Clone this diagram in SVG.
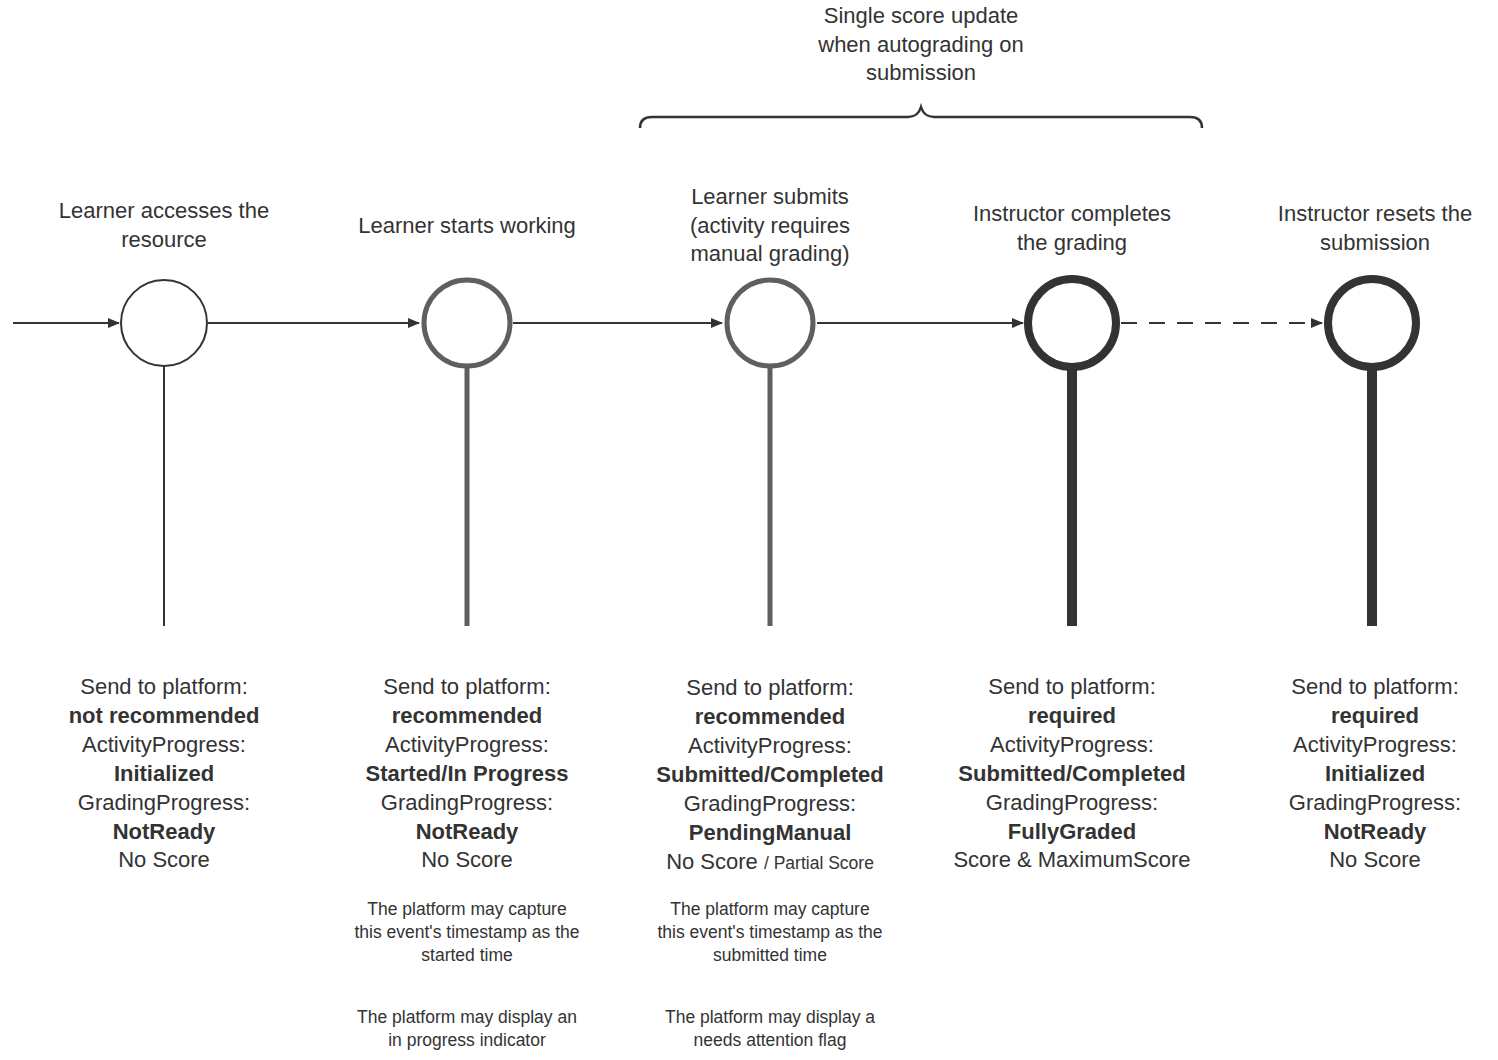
<svg xmlns="http://www.w3.org/2000/svg" width="1498" height="1060" viewBox="0 0 1498 1060">
<defs>
<marker id="ah" markerWidth="12" markerHeight="10" refX="11" refY="5" orient="auto" markerUnits="userSpaceOnUse"><path d="M0,0 L12,5 L0,10 Z" fill="#333"/></marker>
<style>
text{font-family:"Liberation Sans",Arial,sans-serif;fill:#333;text-anchor:middle}
.t{font-size:22px}
.b{font-weight:bold}
.s{font-size:17.5px}
.c{fill:#fff}
.conn{stroke:#333;stroke-width:2;fill:none}
</style>
</defs>
<rect width="1498" height="1060" fill="#fff"/>
<g id="brace">
<path d="M640,128 Q640,117 652,117 L908,117 Q918,117 921,107 Q924,117 934,117 L1190,117 Q1202,117 1202,128" fill="none" stroke="#333" stroke-width="2.5"/>
<text class="t" x="921" y="23">Single score update</text>
<text class="t" x="921" y="52">when autograding on</text>
<text class="t" x="921" y="80">submission</text>
</g>
<g id="connectors">
<line class="conn" x1="13" y1="323" x2="119" y2="323" marker-end="url(#ah)"/>
<line class="conn" x1="208" y1="323" x2="419" y2="323" marker-end="url(#ah)"/>
<line class="conn" x1="513" y1="323" x2="722" y2="323" marker-end="url(#ah)"/>
<line class="conn" x1="817" y1="323" x2="1023" y2="323" marker-end="url(#ah)"/>
<line class="conn" x1="1121" y1="323" x2="1322" y2="323" stroke-dasharray="16,12" marker-end="url(#ah)"/>
</g>
<g id="n1">
<line x1="164" y1="366" x2="164" y2="626" stroke="#333" stroke-width="2"/>
<circle class="c" cx="164" cy="323" r="43" stroke="#333" stroke-width="2"/>
<text class="t" x="164" y="218">Learner accesses the</text>
<text class="t" x="164" y="247">resource</text>
<text class="t" x="164" y="694">Send to platform:</text>
<text class="t b" x="164" y="723">not recommended</text>
<text class="t" x="164" y="752">ActivityProgress:</text>
<text class="t b" x="164" y="781">Initialized</text>
<text class="t" x="164" y="810">GradingProgress:</text>
<text class="t b" x="164" y="839">NotReady</text>
<text class="t" x="164" y="867">No Score</text>
</g>
<g id="n2">
<line x1="467" y1="366" x2="467" y2="626" stroke="#5f5f5f" stroke-width="5"/>
<circle class="c" cx="467" cy="323" r="43" stroke="#5f5f5f" stroke-width="5"/>
<text class="t" x="467" y="233">Learner starts working</text>
<text class="t" x="467" y="694">Send to platform:</text>
<text class="t b" x="467" y="723">recommended</text>
<text class="t" x="467" y="752">ActivityProgress:</text>
<text class="t b" x="467" y="781">Started/In Progress</text>
<text class="t" x="467" y="810">GradingProgress:</text>
<text class="t b" x="467" y="839">NotReady</text>
<text class="t" x="467" y="867">No Score</text>
<text class="s" x="467" y="915">The platform may capture</text>
<text class="s" x="467" y="938">this event's timestamp as the</text>
<text class="s" x="467" y="961">started time</text>
<text class="s" x="467" y="1023">The platform may display an</text>
<text class="s" x="467" y="1046">in progress indicator</text>
</g>
<g id="n3">
<line x1="770" y1="366" x2="770" y2="626" stroke="#5f5f5f" stroke-width="5"/>
<circle class="c" cx="770" cy="323" r="43" stroke="#5f5f5f" stroke-width="5"/>
<text class="t" x="770" y="204">Learner submits</text>
<text class="t" x="770" y="233">(activity requires</text>
<text class="t" x="770" y="261">manual grading)</text>
<text class="t" x="770" y="695">Send to platform:</text>
<text class="t b" x="770" y="724">recommended</text>
<text class="t" x="770" y="753">ActivityProgress:</text>
<text class="t b" x="770" y="782">Submitted/Completed</text>
<text class="t" x="770" y="811">GradingProgress:</text>
<text class="t b" x="770" y="840">PendingManual</text>
<text class="t" x="770" y="869">No Score <tspan class="s" style="font-size:17.5px">/ Partial Score</tspan></text>
<text class="s" x="770" y="915">The platform may capture</text>
<text class="s" x="770" y="938">this event's timestamp as the</text>
<text class="s" x="770" y="961">submitted time</text>
<text class="s" x="770" y="1023">The platform may display a</text>
<text class="s" x="770" y="1046">needs attention flag</text>
</g>
<g id="n4">
<line x1="1072" y1="366" x2="1072" y2="626" stroke="#333" stroke-width="10"/>
<circle class="c" cx="1072" cy="323" r="44" stroke="#333" stroke-width="8"/>
<text class="t" x="1072" y="221">Instructor completes</text>
<text class="t" x="1072" y="250">the grading</text>
<text class="t" x="1072" y="694">Send to platform:</text>
<text class="t b" x="1072" y="723">required</text>
<text class="t" x="1072" y="752">ActivityProgress:</text>
<text class="t b" x="1072" y="781">Submitted/Completed</text>
<text class="t" x="1072" y="810">GradingProgress:</text>
<text class="t b" x="1072" y="839">FullyGraded</text>
<text class="t" x="1072" y="867">Score &amp; MaximumScore</text>
</g>
<g id="n5">
<line x1="1372" y1="366" x2="1372" y2="626" stroke="#333" stroke-width="10"/>
<circle class="c" cx="1372" cy="323" r="44" stroke="#333" stroke-width="8"/>
<text class="t" x="1375" y="221">Instructor resets the</text>
<text class="t" x="1375" y="250">submission</text>
<text class="t" x="1375" y="694">Send to platform:</text>
<text class="t b" x="1375" y="723">required</text>
<text class="t" x="1375" y="752">ActivityProgress:</text>
<text class="t b" x="1375" y="781">Initialized</text>
<text class="t" x="1375" y="810">GradingProgress:</text>
<text class="t b" x="1375" y="839">NotReady</text>
<text class="t" x="1375" y="867">No Score</text>
</g>
</svg>
